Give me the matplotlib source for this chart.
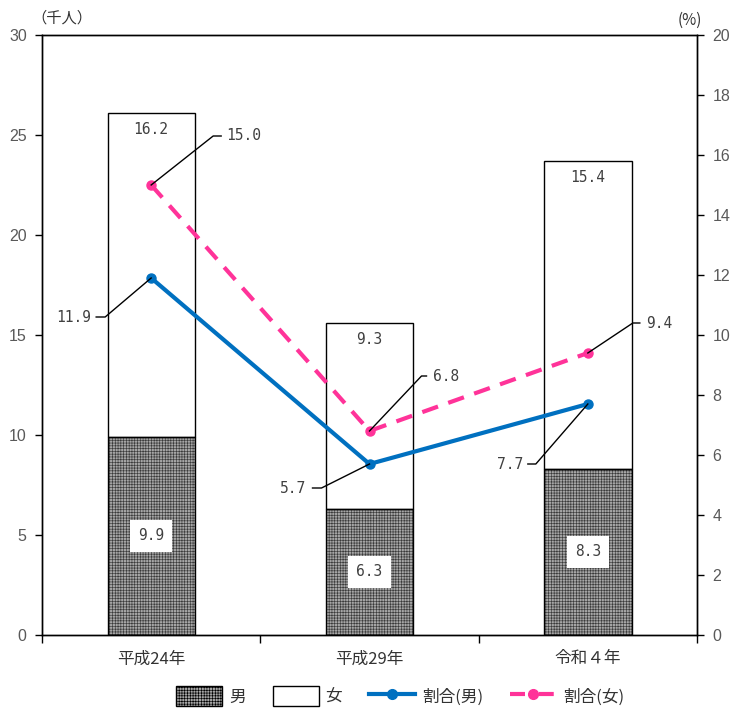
import matplotlib
matplotlib.use("Agg")
import matplotlib.pyplot as plt
import matplotlib.transforms as mtransforms
from matplotlib.patches import Patch
from matplotlib.lines import Line2D

plt.rcParams['font.family'] = ['Noto Sans CJK JP', 'DejaVu Sans']
plt.rcParams['hatch.linewidth'] = 0.45

# Data
categories = ['平成24年', '平成29年', '令和４年']
male = [9.9, 6.3, 8.3]            # 千人
female = [16.2, 9.3, 15.4]        # 千人
ratio_male = [11.9, 5.7, 7.7]     # %
ratio_female = [15.0, 6.8, 9.4]   # %

GRAY = '#595959'
BLUE = '#0070C0'
PINK = '#FF3399'
MALE_FACE = '#a6a6a6'
MALE_HATCH = '#3a3a3a'
HATCH = '++++++'

fig = plt.figure(figsize=(7.32, 7.09), dpi=100)
ax = fig.add_axes([42/732, 1 - 635/709, (697 - 42)/732, (635 - 35)/709])
ax2 = ax.twinx()

x = list(range(len(categories)))
width = 0.40

bars_m = ax.bar(x, male, width, color=MALE_FACE, edgecolor=MALE_HATCH, hatch=HATCH,
                linewidth=0, zorder=2)
bars_f = ax.bar(x, female, width, bottom=male, color='white',
                edgecolor='black', linewidth=1.0, zorder=2)
for p in bars_m:
    # outline drawn separately so the hatch colour stays independent
    ax.add_patch(plt.Rectangle(p.get_xy(), p.get_width(), p.get_height(),
                               fill=False, edgecolor='black', linewidth=1.0, zorder=3))

label_font = dict(family='DejaVu Sans Mono', fontsize=10.5, color='#404040')
for i in x:
    ax.text(i, male[i] / 2, f'{male[i]:.1f}', ha='center', va='center', zorder=4,
            bbox=dict(boxstyle='square,pad=0.55', facecolor='white', edgecolor='none'),
            **label_font)
    ax.text(i, male[i] + female[i] - 0.85, f'{female[i]:.1f}', ha='center',
            va='center', zorder=4, **label_font)

ax.set_xlim(-0.5, 2.5)
ax.set_ylim(0, 30)
ax.set_yticks(range(0, 31, 5))
ax2.set_ylim(0, 20)
ax2.set_yticks(range(0, 21, 2))

ax.set_xticks([-0.5, 0.5, 1.5, 2.5])
ax.set_xticklabels([])
ax.set_xticks(x, minor=True)
ax.set_xticklabels(categories, minor=True, fontsize=12, color='#333333')
ax.tick_params(axis='x', which='major', length=6, direction='out', width=1)
ax.tick_params(axis='x', which='minor', length=0, pad=11)
ax.tick_params(axis='y', length=5, direction='out', width=1, labelsize=11.5,
               labelcolor=GRAY, pad=6)
ax2.tick_params(axis='y', length=5, direction='out', width=1, labelsize=11.5,
                labelcolor=GRAY, pad=6)
for lab in ax.get_yticklabels() + ax2.get_yticklabels():
    lab.set_family('Liberation Sans')
for sp in list(ax.spines.values()) + list(ax2.spines.values()):
    sp.set_linewidth(1.0)

ax2.plot(x, ratio_male, color=BLUE, linewidth=3, marker='o', markersize=6.5,
         zorder=5, solid_capstyle='round')
ax2.plot(x, ratio_female, color=PINK, linewidth=3, marker='o', markersize=6.5,
         linestyle=(0, (4, 2.6)), zorder=5)
ax2.set_zorder(ax.get_zorder() + 1)
ax2.patch.set_visible(False)

# Leader lines: (index, value, [(dx, dy) pixel vertices], text offset, ha)
leaders = [
    (0, 15.0, [(0, 0), (62, 49), (70, 49)], (75, 49), 'left'),
    (0, 11.9, [(0, 0), (-46, -39), (-55, -39)], (-60, -39), 'right'),
    (1, 6.8, [(0, 0), (52, 55), (57, 55)], (63, 55), 'left'),
    (1, 5.7, [(0, 0), (-48, -24), (-57, -24)], (-63, -24), 'right'),
    (2, 9.4, [(0, 0), (45, 30), (52, 30)], (58, 30), 'left'),
    (2, 7.7, [(0, 0), (-52, -60), (-60, -60)], (-65, -60), 'right'),
]
for i, val, verts, (tx, ty), ha in leaders:
    base = mtransforms.ScaledTranslation(i, val, ax2.transData)
    tr = mtransforms.Affine2D().scale(fig.dpi / 72) + base
    pts = [(dx * 72 / fig.dpi, dy * 72 / fig.dpi) for dx, dy in verts]
    ax2.add_line(Line2D([p[0] for p in pts], [p[1] for p in pts], color='black',
                        linewidth=1.0, transform=tr, zorder=6))
    ax2.text(tx * 72 / fig.dpi, ty * 72 / fig.dpi, f'{val:.1f}', transform=tr,
             ha=ha, va='center', zorder=6, **label_font)

fig.text(62/732, 1 - 18/709, '（千人）', ha='center', va='center', fontsize=11,
         color='#333333')
fig.text(690/732, 1 - 20/709, '(%)', ha='center', va='center', fontsize=11,
         color='#333333')

handles = [
    Patch(facecolor=MALE_FACE, edgecolor='black', hatch=HATCH, label='男'),
    Patch(facecolor='white', edgecolor='black', label='女'),
    Line2D([], [], color=BLUE, linewidth=3, marker='o', markersize=7, label='割合(男)'),
    Line2D([], [], color=PINK, linewidth=3, marker='o', markersize=7,
           linestyle=(0, (3.6, 3.3)), label='割合(女)'),
]
fig.legend(handles=handles, loc='center', bbox_to_anchor=(400/732, 1 - 696/709),
           ncol=4, frameon=False, fontsize=12, handlelength=2.76, handleheight=1.4,
           columnspacing=1.6, handletextpad=0.42, labelcolor='#333333',
           borderpad=0.2)

fig.savefig('out.png', dpi=100)
